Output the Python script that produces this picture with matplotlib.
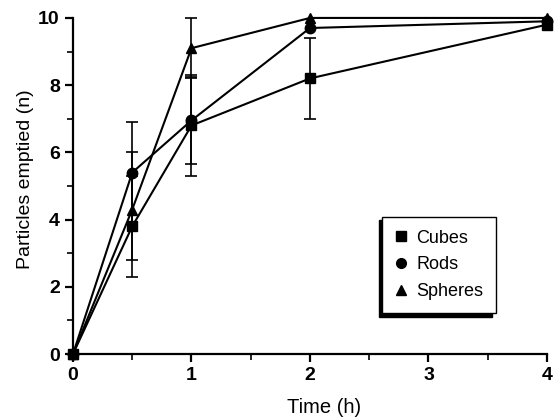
import matplotlib.pyplot as plt
from matplotlib.lines import Line2D
import numpy as np

# gastric emptying of particles by shape
time = [0, 0.5, 1, 2, 4]
cubes = [0, 3.8, 6.8, 8.2, 9.8]
rods = [0, 5.4, 6.95, 9.7, 9.9]
spheres = [0, 4.3, 9.1, 10.0, 10.0]

nan = np.nan
cubes_err = [[nan, 1.5, 1.5, 1.2, nan], [nan, 1.5, 1.5, 1.2, nan]]
rods_err = [[nan, 1.5, 1.3, nan, nan], [nan, 1.5, 1.3, nan, nan]]
spheres_err = [[nan, 1.5, 0.9, nan, nan], [nan, 1.7, 0.9, nan, nan]]

labels = ['Cubes', 'Rods', 'Spheres']
markers = ['s', 'o', '^']
sizes = [7, 7.5, 7]

plt.rcParams['font.family'] = ['Liberation Sans', 'DejaVu Sans']

fig = plt.figure(figsize=(5.55, 4.17), dpi=100)
ax = fig.add_axes([0.1315, 0.151, 0.854, 0.806])

series = [(cubes, cubes_err), (rods, rods_err), (spheres, spheres_err)]
for (vals, err), m, ms in zip(series, markers, sizes):
  ax.errorbar(time, vals, yerr=np.array(err), color='black', marker=m, ms=ms,
              lw=1.5, elinewidth=1.2, capsize=4.5, capthick=1.2, clip_on=False, zorder=3)

ax.set_xlim(0, 4)
ax.set_ylim(0, 10)
ax.set_xticks([0, 1, 2, 3, 4])
ax.set_xticks(np.arange(0.5, 4, 1), minor=True)
ax.set_yticks([0, 2, 4, 6, 8, 10])
ax.set_yticks([1, 3, 5, 7, 9], minor=True)
for s in ['top', 'right']:
  ax.spines[s].set_visible(False)
for s in ['left', 'bottom']:
  ax.spines[s].set_linewidth(1.6)
ax.tick_params(which='major', length=6, width=1.6, labelsize=14)
ax.tick_params(which='minor', length=4, width=1.2)
for lab in ax.get_xticklabels() + ax.get_yticklabels():
  lab.set_fontweight('bold')

ax.set_xlabel('Time (h)', fontsize=14.5, labelpad=10)
ax.xaxis.set_label_coords(0.53, -0.13)
ax.set_ylabel('Particles emptied (n)', fontsize=14)
ax.yaxis.set_label_coords(-0.083, 0.52)

handles = [Line2D([], [], marker=m, ls='none', color='black', ms=ms - 0.5) for m, ms in zip(markers, sizes)]
leg = ax.legend(handles, labels, loc='lower left', bbox_to_anchor=(0.652, 0.122),
                borderaxespad=0, fancybox=False, handlelength=0.7, handletextpad=0.5,
                fontsize=13, labelspacing=0.55, borderpad=0.7,
                shadow={'ox': -2.5, 'oy': -2.5, 'color': 'black', 'alpha': 1})
leg.get_frame().set_edgecolor('black')
leg.get_frame().set_linewidth(1.0)

fig.savefig('out.png', dpi=100)
